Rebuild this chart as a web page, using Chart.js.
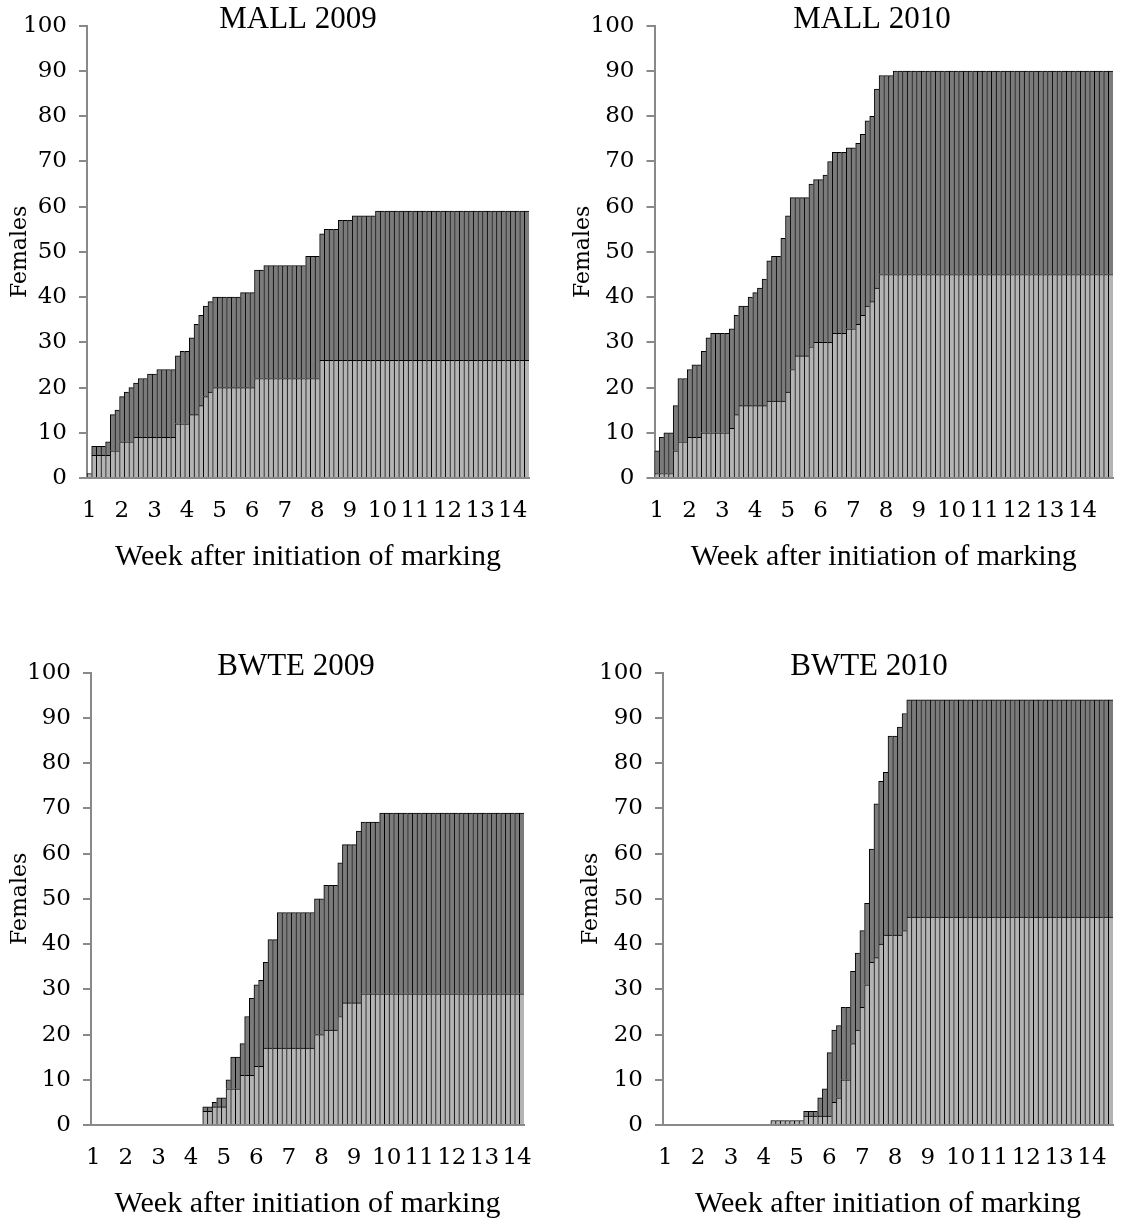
<!DOCTYPE html>
<html>
<head>
<meta charset="utf-8">
<script src="https://cdn.jsdelivr.net/npm/chart.js@4.4.1/dist/chart.umd.min.js"></script>
<style>
html,body{margin:0;padding:0;background:#fff;overflow:hidden;width:1125px;height:1222px;}
.panel{position:absolute;}
</style>
</head>
<body>
<canvas id="c1" class="panel" style="left:0px;top:0px" width="596" height="600"></canvas>
<canvas id="c2" class="panel" style="left:560px;top:0px" width="624" height="600"></canvas>
<canvas id="c3" class="panel" style="left:0px;top:647px" width="592" height="600"></canvas>
<canvas id="c4" class="panel" style="left:560px;top:647px" width="618" height="600"></canvas>
<script>
// ---------- DATA (one value per day; light = lower series, dark = upper series) ----------
const weekTicks = ['1','2','3','4','5','6','7','8','9','10','11','12','13','14'];
const panelTitles = ['MALL 2009', 'MALL 2010', 'BWTE 2009', 'BWTE 2010'];
const yAxisTitle = 'Females';
const xAxisTitle = 'Week after initiation of marking';

const mall2009Light = [
  1,5,5,5,5,6,6,
  8,8,8,9,9,9,9,
  9,9,9,9,9,12,12,
  12,14,14,16,18,19,20,
  20,20,20,20,20,20,20,
  20,22,22,22,22,22,22,
  22,22,22,22,22,22,22,
  22,26,26,26,26,26,26,
  26,26,26,26,26,26,26,
  26,26,26,26,26,26,26,
  26,26,26,26,26,26,26,
  26,26,26,26,26,26,26,
  26,26,26,26,26,26,26,
  26,26,26,26
];
const mall2009Dark = [
  0,2,2,2,3,8,9,
  10,11,12,12,13,13,14,
  14,15,15,15,15,15,16,
  16,17,20,20,20,20,20,
  20,20,20,20,20,21,21,
  21,24,24,25,25,25,25,
  25,25,25,25,25,27,27,
  27,28,29,29,29,31,31,
  31,32,32,32,32,32,33,
  33,33,33,33,33,33,33,
  33,33,33,33,33,33,33,
  33,33,33,33,33,33,33,
  33,33,33,33,33,33,33,
  33,33,33,33
];

const mall2010Light = [
  1,1,1,1,6,8,8,
  9,9,9,10,10,10,10,
  10,10,11,14,16,16,16,
  16,16,16,17,17,17,17,
  19,24,27,27,27,29,30,
  30,30,30,32,32,32,33,
  33,34,36,38,39,42,45,
  45,45,45,45,45,45,45,
  45,45,45,45,45,45,45,
  45,45,45,45,45,45,45,
  45,45,45,45,45,45,45,
  45,45,45,45,45,45,45,
  45,45,45,45,45,45,45,
  45,45,45,45,45,45,45
];
const mall2010Dark = [
  5,8,9,9,10,14,14,
  15,16,16,18,21,22,22,
  22,22,22,22,22,22,24,
  25,26,28,31,32,32,36,
  39,38,35,35,35,36,36,
  36,37,40,40,40,40,40,
  40,40,40,41,41,44,44,
  44,44,45,45,45,45,45,
  45,45,45,45,45,45,45,
  45,45,45,45,45,45,45,
  45,45,45,45,45,45,45,
  45,45,45,45,45,45,45,
  45,45,45,45,45,45,45,
  45,45,45,45,45,45,45
];

const bwte2009Light = [
  0,0,0,0,0,0,0,
  0,0,0,0,0,0,0,
  0,0,0,0,0,0,0,
  0,0,0,3,3,4,4,
  4,8,8,8,11,11,11,
  13,13,17,17,17,17,17,
  17,17,17,17,17,17,20,
  20,21,21,21,24,27,27,
  27,27,29,29,29,29,29,
  29,29,29,29,29,29,29,
  29,29,29,29,29,29,29,
  29,29,29,29,29,29,29,
  29,29,29,29,29,29,29,
  29,29
];
const bwte2009Dark = [
  0,0,0,0,0,0,0,
  0,0,0,0,0,0,0,
  0,0,0,0,0,0,0,
  0,0,0,1,1,1,2,
  2,2,7,7,7,13,17,
  18,19,19,24,24,30,30,
  30,30,30,30,30,30,30,
  30,32,32,32,34,35,35,
  35,38,38,38,38,38,40,
  40,40,40,40,40,40,40,
  40,40,40,40,40,40,40,
  40,40,40,40,40,40,40,
  40,40,40,40,40,40,40,
  40,40
];

const bwte2010Light = [
  0,0,0,0,0,0,0,
  0,0,0,0,0,0,0,
  0,0,0,0,0,0,0,
  0,0,1,1,1,1,1,
  1,1,2,2,2,2,2,
  2,5,6,10,10,18,21,
  26,31,36,37,40,42,42,
  42,42,43,46,46,46,46,
  46,46,46,46,46,46,46,
  46,46,46,46,46,46,46,
  46,46,46,46,46,46,46,
  46,46,46,46,46,46,46,
  46,46,46,46,46,46,46,
  46,46,46,46,46
];
const bwte2010Dark = [
  0,0,0,0,0,0,0,
  0,0,0,0,0,0,0,
  0,0,0,0,0,0,0,
  0,0,0,0,0,0,0,
  0,0,1,1,1,4,6,
  14,16,16,16,16,16,17,
  17,18,25,34,36,36,44,
  44,46,48,48,48,48,48,
  48,48,48,48,48,48,48,
  48,48,48,48,48,48,48,
  48,48,48,48,48,48,48,
  48,48,48,48,48,48,48,
  48,48,48,48,48,48,48,
  48,48,48,48,48
];

// ---------- STYLE / LAYOUT ----------
const SERIF = "'Liberation Serif', 'Times New Roman', serif";
const TICKFONT = "'DejaVu Serif', 'Liberation Serif', serif";
const LIGHT = '#b4b4b4';
const DARK = '#7b7b7b';
const AXIS = '#898989';

function buildPanel(canvasId, title, light, dark, geo) {
  const days = light.map((_, i) => i + 1);
  const barStyle = {
    borderColor: '#000',
    borderWidth: {top: 1, left: 1, right: 0, bottom: 0},
    borderSkipped: false,
    barPercentage: 1,
    categoryPercentage: 1,
    stack: 'total'
  };
  return new Chart(document.getElementById(canvasId), {
    type: 'bar',
    data: {
      labels: days,
      datasets: [
        Object.assign({label: 'light', data: light, backgroundColor: LIGHT}, barStyle),
        Object.assign({label: 'dark', data: dark, backgroundColor: DARK}, barStyle)
      ]
    },
    options: {
      responsive: false,
      animation: false,
      devicePixelRatio: 1,
      layout: {padding: 0},
      plugins: {
        legend: {display: false},
        tooltip: {enabled: false},
        title: {
          display: true, text: title, color: '#000',
          font: {family: SERIF, size: 31, weight: 'normal', lineHeight: 1.2},
          padding: {top: 1, bottom: -13}
        }
      },
      scales: {
        x: {
          stacked: true,
          grid: {display: false, drawTicks: false},
          border: {display: true, color: AXIS, width: 2},
          ticks: {
            autoSkip: false, maxRotation: 0, minRotation: 0, padding: 19, color: '#000',
            font: {family: TICKFONT, size: 23},
            callback: (v, i) => (i % 7 === 0 ? weekTicks[i / 7] : '')
          },
          title: {
            display: true, text: xAxisTitle, color: '#000',
            font: {family: SERIF, size: 30, lineHeight: 1.2},
            padding: {top: 0, bottom: 25}
          },
          afterFit: s => { s.height = geo.xh; }
        },
        y: {
          stacked: true, min: 0, max: 100,
          ticks: {stepSize: 10, padding: 12, color: '#000', font: {family: TICKFONT, size: 23}},
          grid: {drawOnChartArea: false, drawTicks: true, tickLength: 8, color: AXIS, lineWidth: 2},
          border: {display: true, color: AXIS, width: 2},
          title: {
            display: true, text: yAxisTitle, color: '#000',
            font: {family: TICKFONT, size: 22, lineHeight: 1.2},
            padding: {top: geo.ytp, bottom: 0}
          },
          afterFit: s => { s.width = geo.yw; }
        },
        ySpacer: {
          type: 'linear', axis: 'y', position: 'right', display: true,
          grid: {display: false}, border: {display: false}, ticks: {display: false},
          afterFit: s => { s.width = geo.rw; }
        }
      }
    }
  });
}

buildPanel('c1', panelTitles[0], mall2009Light, mall2009Dark, {yw: 87, rw: 67, xh: 122, ytp: 7});
buildPanel('c2', panelTitles[1], mall2010Light, mall2010Dark, {yw: 94.5, rw: 71, xh: 122, ytp: 10});
buildPanel('c3', panelTitles[2], bwte2009Light, bwte2009Dark, {yw: 91, rw: 68, xh: 122, ytp: 7});
buildPanel('c4', panelTitles[3], bwte2010Light, bwte2010Dark, {yw: 103, rw: 65, xh: 122, ytp: 18});
</script>
</body>
</html>
